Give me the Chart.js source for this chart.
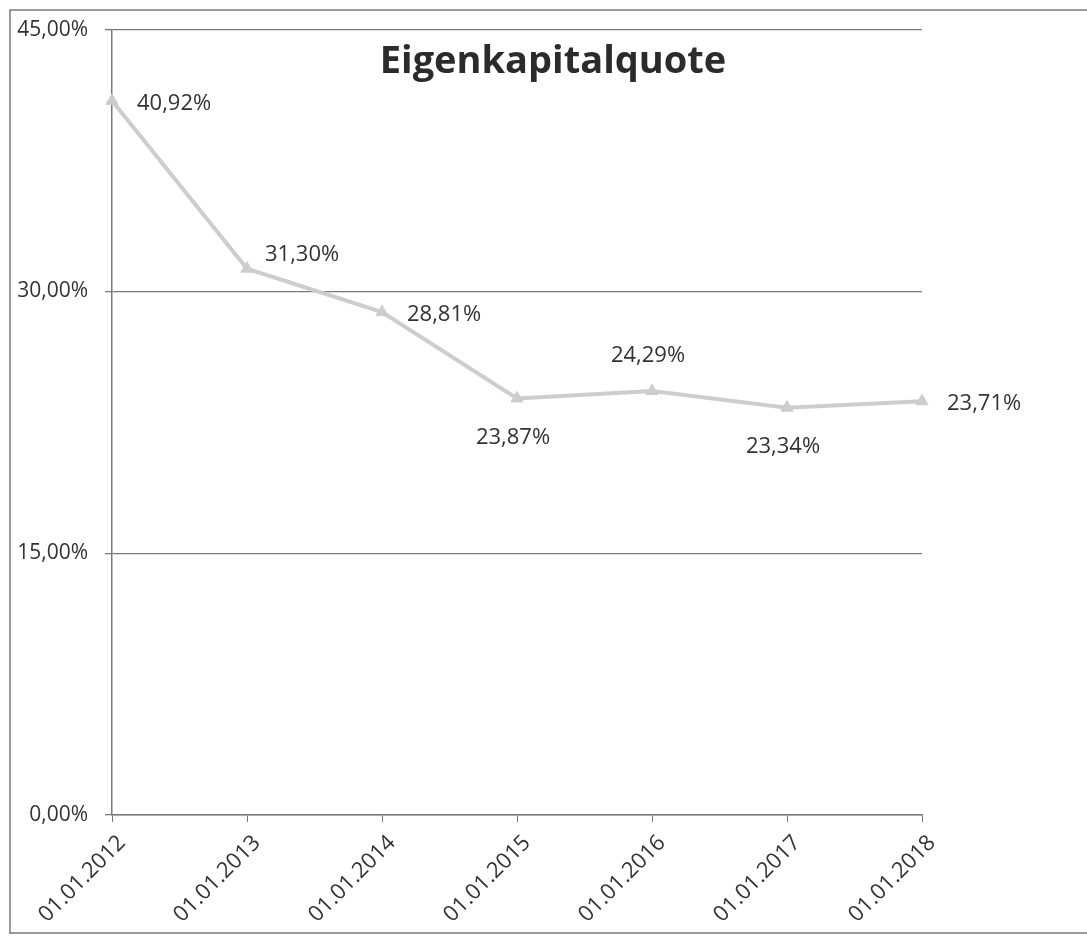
<!DOCTYPE html>
<html>
<head>
<meta charset="utf-8">
<script src="https://cdn.jsdelivr.net/npm/chart.js@4.4.1/dist/chart.umd.min.js"></script>
<style>
  html, body { margin: 0; padding: 0; background: #fff; }
  #wrap { width: 1087px; height: 936px; position: relative; }
</style>
</head>
<body>
<div id="wrap"><canvas id="chart"></canvas></div>
<script>
// Daten
const dates = ["01.01.2012", "01.01.2013", "01.01.2014", "01.01.2015", "01.01.2016", "01.01.2017", "01.01.2018"];
const quote = [40.92, 31.30, 28.81, 23.87, 24.29, 23.34, 23.71];
const yTicks = [0, 15, 30, 45];

const fmt = v => v.toFixed(2).replace(".", ",") + "%";
const FONT = "'Open Sans', 'Liberation Sans', sans-serif";

// Lage der Beschriftungen je Punkt
const labelPlace = ["right", "rightUp", "right", "below", "above", "below", "right"];

const extras = {
    id: "extras",
    afterDraw(chart) {
        const ctx = chart.ctx;
        ctx.save();
        // Rahmen
        ctx.strokeStyle = "#7a7a7a";
        ctx.lineWidth = 1.5;
        ctx.beginPath();
        ctx.moveTo(10, 934);
        ctx.lineTo(10, 10);
        ctx.lineTo(1087, 10);
        ctx.moveTo(10, 933);
        ctx.lineTo(1087, 933);
        ctx.stroke();

        // Titel
        ctx.fillStyle = "#2b2b2b";
        ctx.font = "bold 38px " + FONT;
        ctx.textAlign = "center";
        ctx.textBaseline = "middle";
        ctx.fillText("Eigenkapitalquote", 553, 62);

        // Datenbeschriftungen
        ctx.font = "22px " + FONT;
        ctx.fillStyle = "#333";
        const meta = chart.getDatasetMeta(0);
        meta.data.forEach((pt, i) => {
            const txt = fmt(quote[i]);
            const p = labelPlace[i];
            if (p === "right") {
                ctx.textAlign = "left";
                ctx.fillText(txt, pt.x + 25, pt.y + 3);
            } else if (p === "rightUp") {
                ctx.textAlign = "left";
                ctx.fillText(txt, pt.x + 18, pt.y - 14);
            } else if (p === "below") {
                ctx.textAlign = "center";
                ctx.fillText(txt, pt.x - 4, pt.y + 39);
            } else {
                ctx.textAlign = "center";
                ctx.fillText(txt, pt.x - 4, pt.y - 35);
            }
        });
        ctx.restore();
    }
};

new Chart(document.getElementById("chart"), {
    type: "line",
    data: {
        labels: dates,
        datasets: [{
            data: quote,
            borderColor: "#cdcdcd",
            backgroundColor: "#cdcdcd",
            borderWidth: 4,
            pointStyle: "triangle",
            pointRadius: 7,
            pointBorderWidth: 1,
            tension: 0,
            fill: false
        }]
    },
    options: {
        responsive: true,
        maintainAspectRatio: false,
        animation: false,
        layout: { padding: { left: 0, right: 165, top: 25, bottom: 0 } },
        plugins: {
            legend: { display: false },
            tooltip: { enabled: false }
        },
        scales: {
            x: {
                offset: false,
                grid: { display: true, drawOnChartArea: false, tickLength: 7, color: "#7a7a7a" },
                border: { display: true, color: "#7a7a7a", width: 1.5 },
                ticks: {
                    maxRotation: 45, minRotation: 45,
                    font: { family: FONT, size: 22 },
                    color: "#333",
                    padding: 8,
                    labelOffset: 10
                },
                afterFit(scale) { scale.height = 121; }
            },
            y: {
                min: 0, max: 45,
                afterBuildTicks(scale) { scale.ticks = yTicks.map(v => ({ value: v })); },
                grid: { color: "#7a7a7a", lineWidth: 1.3, tickLength: 7 },
                border: { display: true, color: "#7a7a7a", width: 1.5 },
                ticks: {
                    font: { family: FONT, size: 21 },
                    color: "#333",
                    padding: 17,
                    callback: v => fmt(v)
                },
                afterFit(scale) { scale.width = 112; }
            }
        }
    },
    plugins: [extras]
});
</script>
</body>
</html>
